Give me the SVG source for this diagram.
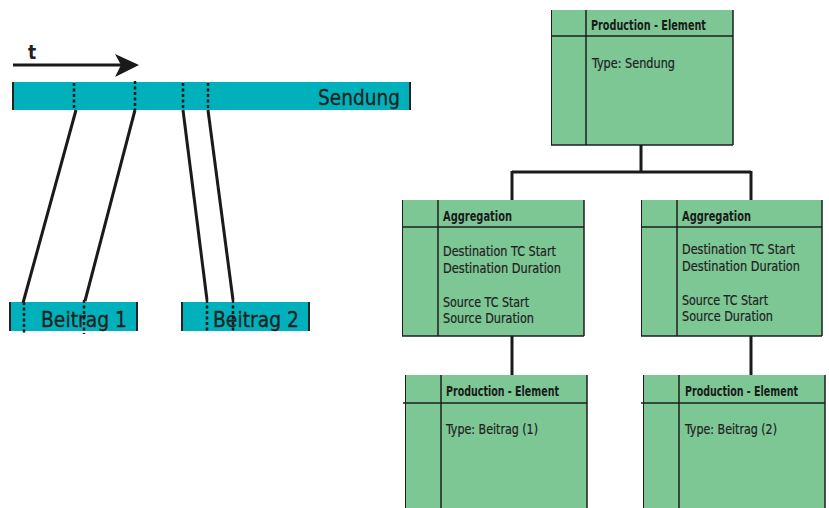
<svg xmlns="http://www.w3.org/2000/svg" width="829" height="508" viewBox="0 0 829 508">
<style>
.bar{fill:#00B1BB}
.end{stroke:#222;stroke-width:2}
.dot{stroke:#1a1a1a;stroke-width:2.5;stroke-dasharray:3 2.5}
.ln{stroke:#1a1a1a;stroke-width:3;fill:none}
.box{fill:#7DC795}
.bd{stroke:#1e1e1e;stroke-width:1.5}
.bdt{stroke:#1e1e1e;stroke-width:1}
.big{font-family:"DejaVu Sans Condensed","DejaVu Sans",sans-serif;font-size:22px;fill:#222;stroke:#222;stroke-width:0.3}
.hd{font-family:"DejaVu Sans Condensed","DejaVu Sans",sans-serif;font-size:14px;font-weight:bold;fill:#1a1a1a}
.tx{font-family:"DejaVu Sans Condensed","DejaVu Sans",sans-serif;font-size:13.5px;fill:#222;stroke:#222;stroke-width:0.2}
.con{stroke:#1a1a1a;stroke-width:3;fill:none}
</style>
<g id="time-arrow">
<line class="ln" x1="13" y1="65" x2="124" y2="65"/>
<polygon points="139,65 115,54 121,65 115,77" fill="#1a1a1a"/>
<text x="28" y="59" font-family="DejaVu Sans Condensed,DejaVu Sans,sans-serif" font-size="19" font-weight="bold" fill="#222">t</text>
</g>
<g id="sendung">
<rect class="bar" x="13" y="82" width="398" height="28"/>
<line class="end" x1="13" y1="82" x2="13" y2="110"/>
<line class="end" x1="410" y1="82" x2="410" y2="110"/>
<line class="dot" x1="74" y1="83" x2="74" y2="110"/>
<line class="dot" x1="135" y1="81" x2="135" y2="110"/>
<line class="dot" x1="183" y1="83" x2="183" y2="110"/>
<line class="dot" x1="208" y1="83" x2="208" y2="110"/>
<text class="big" x="318" y="105" textLength="82" lengthAdjust="spacingAndGlyphs">Sendung</text>
</g>
<g id="beitrag1">
<rect class="bar" x="10" y="302" width="127" height="29"/>
<line class="end" x1="10" y1="302" x2="10" y2="331"/>
<line class="end" x1="137" y1="302" x2="137" y2="331"/>
<text class="big" x="41" y="327" textLength="86" lengthAdjust="spacingAndGlyphs">Beitrag 1</text>
<line class="dot" x1="24" y1="302" x2="24" y2="334"/>
<line class="dot" x1="84" y1="300" x2="84" y2="334"/>
</g>
<g id="beitrag2">
<rect class="bar" x="181" y="302" width="129" height="29"/>
<line class="end" x1="182" y1="302" x2="182" y2="331"/>
<line class="end" x1="309" y1="302" x2="309" y2="331"/>
<text class="big" x="213" y="327" textLength="86" lengthAdjust="spacingAndGlyphs">Beitrag 2</text>
<line class="dot" x1="207" y1="300" x2="207" y2="331"/>
<line class="dot" x1="233" y1="300" x2="233" y2="331"/>
</g>
<g id="mapping-lines">
<line class="ln" x1="76" y1="110" x2="23" y2="303"/>
<line class="ln" x1="135" y1="110" x2="85" y2="301"/>
<line class="ln" x1="183" y1="110" x2="207" y2="300"/>
<line class="ln" x1="208" y1="110" x2="233" y2="300"/>
</g>
<g id="connectors">
<line class="con" x1="641" y1="145" x2="641" y2="172"/>
<line class="con" x1="512" y1="172" x2="751" y2="172"/>
<line class="con" x1="512" y1="171" x2="512" y2="200"/>
<line class="con" x1="751" y1="171" x2="751" y2="200"/>
<line class="con" x1="512" y1="336" x2="512" y2="375"/>
<line class="con" x1="751" y1="336" x2="751" y2="375"/>
</g>
<g id="pe-sendung">
<rect class="box" x="551" y="10" width="182" height="135"/>
<line class="bdt" x1="551.5" y1="10" x2="551.5" y2="145"/>
<line class="bd" x1="733" y1="10" x2="733" y2="145"/>
<line class="bd" x1="551" y1="145" x2="733" y2="145"/>
<line class="bd" x1="586" y1="10" x2="586" y2="145"/>
<line class="bd" x1="551" y1="36" x2="733" y2="36"/>
<text class="hd" x="591" y="30" textLength="115" lengthAdjust="spacingAndGlyphs">Production - Element</text>
<text class="tx" x="592" y="68" textLength="83" lengthAdjust="spacingAndGlyphs">Type: Sendung</text>
</g>
<g id="aggregation-1">
<rect class="box" x="402" y="200" width="182" height="136"/>
<line class="bdt" x1="402.5" y1="200" x2="402.5" y2="336"/>
<line class="bd" x1="584" y1="200" x2="584" y2="336"/>
<line class="bd" x1="402" y1="336" x2="584" y2="336"/>
<line class="bd" x1="438" y1="200" x2="438" y2="336"/>
<line class="bd" x1="402" y1="227" x2="584" y2="227"/>
<text class="hd" x="443" y="221" textLength="69" lengthAdjust="spacingAndGlyphs">Aggregation</text>
<text class="tx" x="443" y="256" textLength="113" lengthAdjust="spacingAndGlyphs">Destination TC Start</text>
<text class="tx" x="443" y="273" textLength="118" lengthAdjust="spacingAndGlyphs">Destination Duration</text>
<text class="tx" x="443" y="307" textLength="86" lengthAdjust="spacingAndGlyphs">Source TC Start</text>
<text class="tx" x="443" y="323" textLength="91" lengthAdjust="spacingAndGlyphs">Source Duration</text>
</g>
<g id="aggregation-2">
<rect class="box" x="641" y="200" width="181" height="136"/>
<line class="bdt" x1="641.5" y1="200" x2="641.5" y2="336"/>
<line class="bd" x1="822" y1="200" x2="822" y2="336"/>
<line class="bd" x1="641" y1="336" x2="822" y2="336"/>
<line class="bd" x1="677" y1="200" x2="677" y2="336"/>
<line class="bd" x1="641" y1="227" x2="822" y2="227"/>
<text class="hd" x="682" y="221" textLength="69" lengthAdjust="spacingAndGlyphs">Aggregation</text>
<text class="tx" x="682" y="254" textLength="113" lengthAdjust="spacingAndGlyphs">Destination TC Start</text>
<text class="tx" x="682" y="271" textLength="118" lengthAdjust="spacingAndGlyphs">Destination Duration</text>
<text class="tx" x="682" y="305" textLength="86" lengthAdjust="spacingAndGlyphs">Source TC Start</text>
<text class="tx" x="682" y="321" textLength="91" lengthAdjust="spacingAndGlyphs">Source Duration</text>
</g>
<g id="pe-beitrag-1">
<rect class="box" x="405" y="375" width="182" height="133"/>
<line class="bdt" x1="405.5" y1="375" x2="405.5" y2="508"/>
<line class="bd" x1="587" y1="375" x2="587" y2="508"/>
<line class="bd" x1="441" y1="375" x2="441" y2="508"/>
<line class="bd" x1="403" y1="403" x2="587" y2="403"/>
<text class="hd" x="446" y="396" textLength="113" lengthAdjust="spacingAndGlyphs">Production - Element</text>
<text class="tx" x="446" y="434" textLength="92" lengthAdjust="spacingAndGlyphs">Type: Beitrag (1)</text>
</g>
<g id="pe-beitrag-2">
<rect class="box" x="643" y="375" width="182" height="133"/>
<line class="bdt" x1="643.5" y1="375" x2="643.5" y2="508"/>
<line class="bd" x1="825" y1="375" x2="825" y2="508"/>
<line class="bd" x1="679" y1="375" x2="679" y2="508"/>
<line class="bd" x1="641" y1="403" x2="825" y2="403"/>
<text class="hd" x="685" y="396" textLength="113" lengthAdjust="spacingAndGlyphs">Production - Element</text>
<text class="tx" x="685" y="434" textLength="92" lengthAdjust="spacingAndGlyphs">Type: Beitrag (2)</text>
</g>
</svg>
